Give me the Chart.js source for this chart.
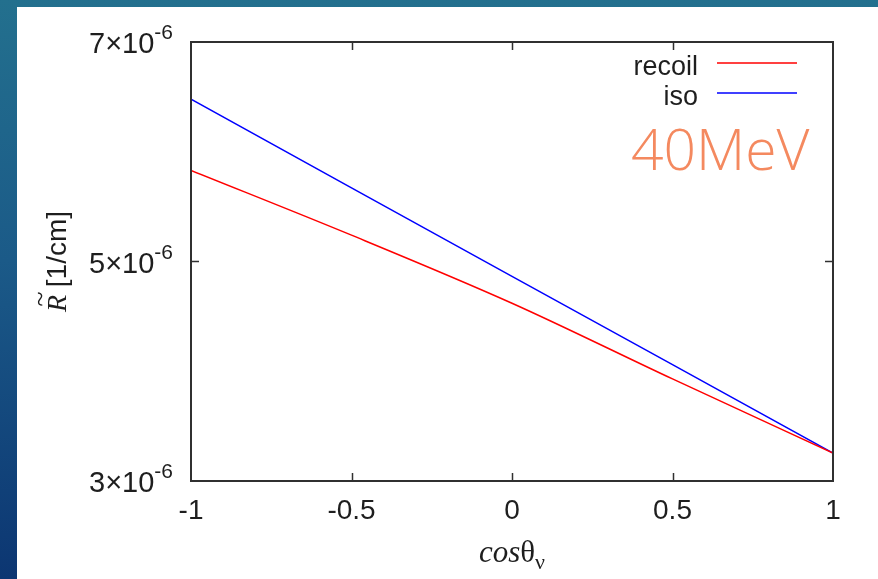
<!DOCTYPE html>
<html lang="en">
<head>
    <meta charset="UTF-8">
    <title>R vs cos theta, 40MeV</title>
    <style>
        body {
            margin: 0;
            width: 878px;
            height: 579px;
            overflow: hidden;
            background: linear-gradient(to bottom, #23708e 0%, #1b5a88 45%, #0c3672 100%);
            position: relative;
        }
        .panel {
            position: absolute;
            left: 17px;
            top: 7px;
            width: 861px;
            height: 572px;
            background: #ffffff;
        }
        canvas {
            position: absolute;
            left: 0;
            top: 0;
        }
    </style>
    <script src="https://cdn.jsdelivr.net/npm/chart.js"></script>
</head>
<body>
    <div class="panel"></div>
    <canvas id="chart" width="878" height="579"></canvas>
    <script>
        // data
        const cosTheta = [-1, -0.5, 0, 0.5, 1];
        const recoil = [5.83e-6, 5.24e-6, 4.62e-6, 3.93e-6, 3.255e-6];
        const iso = [6.48e-6, 5.67e-6, 4.865e-6, 4.06e-6, 3.255e-6];
        const xTicks = [-1, -0.5, 0, 0.5, 1];
        const yTicks = [3e-6, 5e-6, 7e-6];
        const yTickMantissa = ['3', '5', '7'];
        const yTickExponent = '-6';
        const seriesNames = ['recoil', 'iso'];
        const energyLabel = '40MeV';

        const sans = '"Liberation Sans", Arial, sans-serif';
        const serif = '"Liberation Serif", "Times New Roman", serif';

        const gnuplotFrame = {
            id: 'gnuplotFrame',
            afterDraw(chart) {
                const ctx = chart.ctx;
                const a = chart.chartArea;
                const xs = chart.scales.x, ys = chart.scales.y;
                ctx.save();

                // frame
                ctx.strokeStyle = '#303030';
                ctx.lineWidth = 2;
                ctx.strokeRect(a.left, a.top, a.right - a.left, a.bottom - a.top);

                // inward ticks, mirrored
                ctx.lineWidth = 1.5;
                ctx.beginPath();
                xTicks.slice(1, -1).forEach(v => {
                    const px = Math.round(xs.getPixelForValue(v)) + 0.5;
                    ctx.moveTo(px, a.bottom); ctx.lineTo(px, a.bottom - 8);
                    ctx.moveTo(px, a.top); ctx.lineTo(px, a.top + 8);
                });
                yTicks.slice(1, -1).forEach(v => {
                    const py = Math.round(ys.getPixelForValue(v)) + 0.5;
                    ctx.moveTo(a.left, py); ctx.lineTo(a.left + 8, py);
                    ctx.moveTo(a.right, py); ctx.lineTo(a.right - 8, py);
                });
                ctx.stroke();

                // y tick labels with superscript exponent
                ctx.fillStyle = '#1e1e1e';
                ctx.textBaseline = 'alphabetic';
                yTicks.forEach((v, i) => {
                    const py = ys.getPixelForValue(v);
                    ctx.font = '21px ' + sans;
                    const supW = ctx.measureText(yTickExponent).width;
                    const supRight = a.left - 18;
                    ctx.textAlign = 'right';
                    ctx.fillText(yTickExponent, supRight, py - 3);
                    ctx.font = '29px ' + sans;
                    ctx.fillText(yTickMantissa[i] + '\u00d710', supRight - supW, py + 11);
                });

                // y axis title, rotated
                ctx.save();
                ctx.translate(66, ys.getPixelForValue(5e-6));
                ctx.rotate(-Math.PI / 2);
                ctx.textAlign = 'left';
                ctx.font = 'italic 28px ' + serif;
                const rW = ctx.measureText('R').width;
                ctx.font = '28px ' + sans;
                const restW = ctx.measureText(' [1/cm]').width;
                let tx = -(rW + restW) / 2;
                ctx.font = 'italic 28px ' + serif;
                ctx.fillText('R', tx, 0);
                ctx.fillText('~', tx + 5, -17);
                ctx.font = '28px ' + sans;
                ctx.fillText(' [1/cm]', tx + rW, 0);
                ctx.restore();

                // x axis title: cos theta_nu
                ctx.textAlign = 'left';
                ctx.font = 'italic 31px ' + serif;
                const cW = ctx.measureText('cos').width;
                ctx.font = '31px ' + serif;
                const thW = ctx.measureText('\u03b8').width;
                ctx.font = '22px ' + serif;
                const nuW = ctx.measureText('\u03bd').width;
                let cx = xs.getPixelForValue(0) - (cW + thW + nuW) / 2;
                ctx.fillStyle = '#1e1e1e';
                ctx.font = 'italic 31px ' + serif;
                ctx.fillText('cos', cx, 562);
                ctx.font = '31px ' + serif;
                ctx.fillText('\u03b8', cx + cW, 562);
                ctx.font = '22px ' + serif;
                ctx.fillText('\u03bd', cx + cW + thW, 569);

                // legend: text then line sample
                ctx.font = '27px ' + sans;
                ctx.textAlign = 'right';
                chart.data.datasets.forEach((ds, i) => {
                    const ly = 63 + i * 30;
                    ctx.fillStyle = '#1e1e1e';
                    ctx.fillText(ds.label, 698, ly + 12);
                    ctx.strokeStyle = ds.borderColor;
                    ctx.lineWidth = 1.5;
                    ctx.beginPath();
                    ctx.moveTo(717, ly); ctx.lineTo(797, ly);
                    ctx.stroke();
                });

                // energy annotation
                ctx.font = '300 57px "Open Sans", "Noto Sans", sans-serif';
                ctx.textAlign = 'left';
                ctx.fillStyle = '#f4895f';
                ctx.fillText(energyLabel, 631, 170);

                ctx.restore();
            }
        };

        new Chart(document.getElementById('chart'), {
            type: 'line',
            data: {
                datasets: [{
                    label: seriesNames[0],
                    data: cosTheta.map((x, i) => ({ x: x, y: recoil[i] })),
                    borderColor: '#ff0000',
                    borderWidth: 1.5,
                    pointRadius: 0,
                    cubicInterpolationMode: 'monotone'
                }, {
                    label: seriesNames[1],
                    data: cosTheta.map((x, i) => ({ x: x, y: iso[i] })),
                    borderColor: '#0000ff',
                    borderWidth: 1.5,
                    pointRadius: 0
                }]
            },
            options: {
                responsive: false,
                animation: false,
                layout: { padding: { left: 0, top: 42, right: 45, bottom: 0 } },
                plugins: {
                    legend: { display: false },
                    tooltip: { enabled: false }
                },
                scales: {
                    x: {
                        type: 'linear',
                        min: -1,
                        max: 1,
                        afterFit: s => { s.height = 98; },
                        afterBuildTicks: s => { s.ticks = xTicks.map(v => ({ value: v })); },
                        ticks: {
                            color: '#1e1e1e',
                            font: { family: sans, size: 28 },
                            padding: 13,
                            maxRotation: 0,
                            callback: v => String(v)
                        },
                        grid: { display: false, drawTicks: false },
                        border: { display: false }
                    },
                    y: {
                        min: 3e-6,
                        max: 7e-6,
                        afterFit: s => { s.width = 191; },
                        afterBuildTicks: s => { s.ticks = yTicks.map(v => ({ value: v })); },
                        ticks: { display: false },
                        grid: { display: false, drawTicks: false },
                        border: { display: false }
                    }
                }
            },
            plugins: [gnuplotFrame]
        });
    </script>
</body>
</html>
